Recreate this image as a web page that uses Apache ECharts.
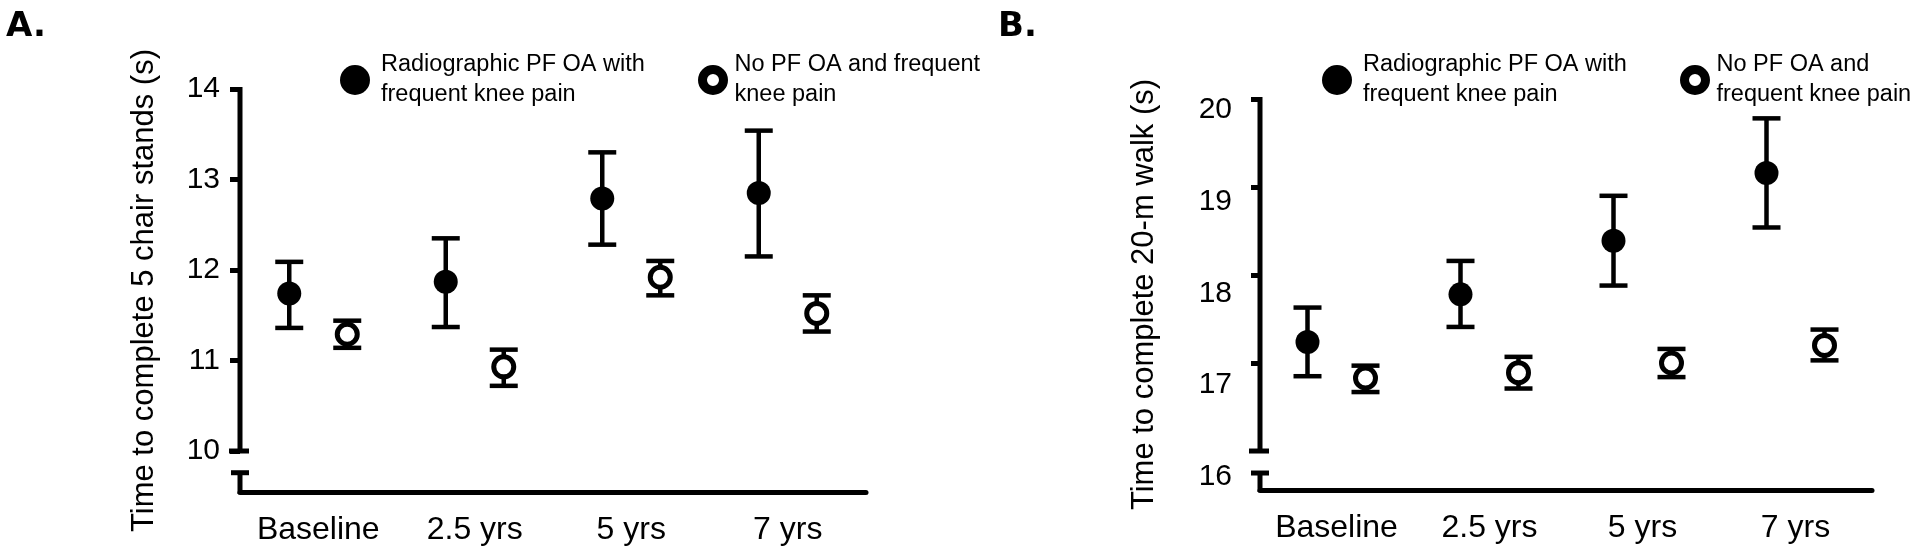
<!DOCTYPE html>
<html>
<head>
<meta charset="utf-8">
<script src="https://cdn.jsdelivr.net/npm/echarts@6.0.0/dist/echarts.min.js"></script>
<style>
html, body { margin: 0; padding: 0; background: #fff; }
#chart { width: 1920px; height: 556px; }
</style>
</head>
<body>
<div id="chart"></div>
<script>
const categories = ['Baseline', '2.5 yrs', '5 yrs', '7 yrs']

// A. time to complete 5 chair stands (s)
const chairPfMean = [11.74, 11.87, 12.79, 12.85]
const chairPfLow = [11.36, 11.37, 12.28, 12.15]
const chairPfHigh = [12.09, 12.35, 13.30, 13.54]
const chairNoMean = [11.29, 10.93, 11.92, 11.52]
const chairNoLow = [11.14, 10.72, 11.72, 11.32]
const chairNoHigh = [11.44, 11.12, 12.10, 11.72]

// B. time to complete 20-m walk (s)
const walkPfMean = [17.24, 17.78, 18.39, 19.16]
const walkPfLow = [16.85, 17.41, 17.88, 18.54]
const walkPfHigh = [17.63, 18.16, 18.90, 19.78]
const walkNoMean = [16.83, 16.89, 17.00, 17.20]
const walkNoLow = [16.67, 16.71, 16.84, 17.03]
const walkNoHigh = [16.97, 17.07, 17.16, 17.38]

const chairTicks = [10, 11, 12, 13, 14]
const walkTicks = [16, 17, 18, 19, 20]

const PF_NAME = 'Radiographic PF OA with frequent knee pain'
const NO_NAME = 'No PF OA and frequent knee pain'

const FONT = 'Liberation Sans, Arial, sans-serif'
const OFFSET = 29 // px shift of each group from the category centre

// y axis with a break, drawn through the library's y scale
function axisBreak(gi, top, breakHigh, breakLow, bottom) {
  return {
    type: 'custom',
    xAxisIndex: gi,
    yAxisIndex: gi,
    silent: true,
    clip: false,
    z: 1,
    data: [[0, top]],
    renderItem: (params, api) => {
      const x = params.coordSys.x
      const y = v => api.coord([0, v])[1]
      const style = { stroke: '#000', lineWidth: 5, fill: null }
      return {
        type: 'group',
        children: [
          { type: 'line', shape: { x1: x, y1: y(top) - 2, x2: x, y2: y(breakHigh) }, style },
          { type: 'line', shape: { x1: x - 11, y1: y(breakHigh), x2: x + 9, y2: y(breakHigh) }, style },
          { type: 'line', shape: { x1: x - 9, y1: y(breakLow), x2: x + 9, y2: y(breakLow) }, style },
          { type: 'line', shape: { x1: x, y1: y(breakLow), x2: x, y2: y(bottom) + 2 }, style }
        ]
      }
    }
  }
}

function errorBars(gi, lows, highs, offset) {
  return {
    type: 'custom',
    xAxisIndex: gi,
    yAxisIndex: gi,
    silent: true,
    z: 2,
    encode: { x: 0, y: [1, 2] },
    data: categories.map((c, i) => [i, lows[i], highs[i]]),
    renderItem: (params, api) => {
      const lo = api.coord([api.value(0), api.value(1)])
      const hi = api.coord([api.value(0), api.value(2)])
      const x = lo[0] + offset
      const half = 14
      const style = { stroke: '#000', lineWidth: 4.5, fill: null }
      return {
        type: 'group',
        children: [
          { type: 'line', shape: { x1: x, y1: lo[1], x2: x, y2: hi[1] }, style },
          { type: 'line', shape: { x1: x - half, y1: lo[1], x2: x + half, y2: lo[1] }, style },
          { type: 'line', shape: { x1: x - half, y1: hi[1], x2: x + half, y2: hi[1] }, style }
        ]
      }
    }
  }
}

function points(gi, name, means, filled, offset) {
  return {
    type: 'scatter',
    name,
    xAxisIndex: gi,
    yAxisIndex: gi,
    z: 3,
    silent: true,
    symbol: 'circle',
    symbolSize: filled ? 24 : 20,
    symbolOffset: [offset, 0],
    itemStyle: filled
      ? { color: '#000', opacity: 1 }
      : { color: '#fff', borderColor: '#000', borderWidth: 5, opacity: 1 },
    data: categories.map((c, i) => [i, means[i]])
  }
}

function legendItem(name, text, left, top, filled, textPad) {
  const size = filled ? 30 : 21
  return {
    data: [name],
    left,
    top,
    padding: 0,
    orient: 'vertical',
    selectedMode: false,
    icon: 'circle',
    itemWidth: size,
    itemHeight: size,
    itemStyle: filled ? { color: '#000', opacity: 1 } : { color: '#fff', borderColor: '#000', borderWidth: 9, opacity: 1 },
    formatter: () => text,
    textStyle: { fontFamily: FONT, fontSize: 23.5, lineHeight: 30, color: '#000', padding: textPad }
  }
}

const yLabelStyle = { fontFamily: FONT, fontSize: 30, color: '#000' }

// the walk-axis labels in the figure sit a little below their ticks
const walkLabelRich = {}
walkTicks.forEach(v => {
  const shift = v === 16 ? 26 : 11 + (20 - v) * 3.7
  walkLabelRich['t' + v] = Object.assign({ padding: [shift * 2, 0, 0, 0] }, yLabelStyle)
})

const option = {
  backgroundColor: '#fff',
  animation: false,
  title: [
    { text: 'A.', left: 6, top: 10, padding: 0, textStyle: { fontFamily: 'DejaVu Sans', fontSize: 34, fontWeight: 'bold', color: '#000' } },
    { text: 'B.', left: 998, top: 10, padding: 0, textStyle: { fontFamily: 'DejaVu Sans', fontSize: 34, fontWeight: 'bold', color: '#000' } }
  ],
  legend: [
    legendItem(PF_NAME, 'Radiographic PF OA with\nfrequent knee pain', 340, 45, true, [0, 0, 10, 6]),
    legendItem(NO_NAME, 'No PF OA and frequent\nknee pain', 698, 45, false, [0, 0, 10, 6]),
    legendItem(PF_NAME, 'Radiographic PF OA with\nfrequent knee pain', 1322, 50, true, [0, 0, 0, 6]),
    legendItem(NO_NAME, 'No PF OA and\nfrequent knee pain', 1680, 50, false, [0, 0, 0, 6])
  ],
  grid: [
    { left: 240, right: 1054, top: 89, bottom: 64, outerBoundsMode: 'none' },
    { left: 1260, right: 48, top: 99, bottom: 66, outerBoundsMode: 'none' }
  ],
  xAxis: [0, 1].map(gi => ({
    type: 'category',
    gridIndex: gi,
    data: categories,
    boundaryGap: true,
    axisLine: { show: true, lineStyle: { color: '#000', width: 5 } },
    axisTick: { show: false },
    splitLine: { show: false },
    axisLabel: { interval: 0, fontFamily: FONT, fontSize: 32, color: '#000', margin: 22 }
  })),
  yAxis: [
    {
      type: 'value',
      gridIndex: 0,
      min: 9.547,
      max: 14,
      name: 'Time to complete 5 chair stands (s)',
      nameLocation: 'middle',
      nameRotate: 90,
      nameGap: 80,
      nameTextStyle: { fontFamily: FONT, fontSize: 31, color: '#000' },
      axisLine: { show: false },
      splitLine: { show: false },
      axisTick: { show: true, length: 10, customValues: chairTicks, lineStyle: { color: '#000', width: 5 } },
      axisLabel: Object.assign({ margin: 20, customValues: chairTicks }, yLabelStyle)
    },
    {
      type: 'value',
      gridIndex: 1,
      min: 15.557,
      max: 20,
      name: 'Time to complete 20-m walk (s)',
      nameLocation: 'middle',
      nameRotate: 90,
      nameGap: 100,
      nameTextStyle: { fontFamily: FONT, fontSize: 31, color: '#000' },
      axisLine: { show: false },
      splitLine: { show: false },
      axisTick: { show: true, length: 9, customValues: walkTicks.slice(1), lineStyle: { color: '#000', width: 5 } },
      axisLabel: Object.assign({
        margin: 28,
        customValues: walkTicks,
        formatter: v => `{t${v}|${v}}`,
        rich: walkLabelRich
      }, yLabelStyle)
    }
  ],
  series: [
    axisBreak(0, 14, 10, 9.76, 9.547),
    axisBreak(1, 20, 16, 15.75, 15.557),
    errorBars(0, chairPfLow, chairPfHigh, -OFFSET),
    errorBars(0, chairNoLow, chairNoHigh, OFFSET),
    errorBars(1, walkPfLow, walkPfHigh, -OFFSET),
    errorBars(1, walkNoLow, walkNoHigh, OFFSET),
    points(0, PF_NAME, chairPfMean, true, -OFFSET),
    points(0, NO_NAME, chairNoMean, false, OFFSET),
    points(1, PF_NAME, walkPfMean, true, -OFFSET),
    points(1, NO_NAME, walkNoMean, false, OFFSET)
  ]
}

const myChart = echarts.init(document.getElementById('chart'))
myChart.setOption(option)
</script>
</body>
</html>
